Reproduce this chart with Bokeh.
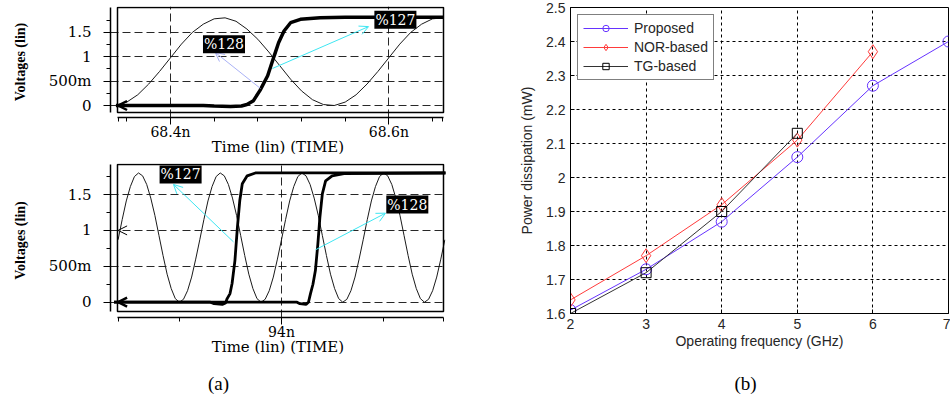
from bokeh.plotting import figure
from bokeh.models import (FixedTicker, CustomJSTickFormatter, BoxAnnotation, Label,
                          Arrow, OpenHead)
from bokeh.layouts import row, column
from bokeh.embed import file_html
from bokeh.resources import INLINE

# ---------------- Panel (a), upper waveform (time in ns, voltage in V) ----------------
a1_time = [68.35, 68.36, 68.37, 68.38, 68.39, 68.40, 68.41, 68.42, 68.43, 68.44,
           68.45, 68.46, 68.47, 68.48, 68.49, 68.50, 68.51, 68.52, 68.53, 68.54,
           68.55, 68.56, 68.57, 68.58, 68.59, 68.60, 68.61, 68.62, 68.63, 68.64, 68.65]
a1_clock = [0.00, 0.07, 0.22, 0.44, 0.70, 0.98, 1.26, 1.50, 1.67, 1.78,
            1.80, 1.73, 1.57, 1.36, 1.10, 0.82, 0.54, 0.30, 0.12, 0.02,
            0.00, 0.07, 0.22, 0.44, 0.70, 0.98, 1.26, 1.50, 1.67, 1.78, 1.80]
a1_out_time = [68.35, 68.43, 68.44, 68.455, 68.465, 68.47, 68.476, 68.482, 68.489,
               68.495, 68.499, 68.504, 68.510, 68.519, 68.537, 68.56, 68.65]
a1_out_v = [0.00, 0.00, -0.01, -0.02, -0.01, 0.02, 0.10, 0.31, 0.61,
            1.02, 1.29, 1.53, 1.70, 1.77, 1.80, 1.81, 1.81]
a1_xticks = [68.4, 68.6]
a1_xminor = [68.352, 68.36, 68.44, 68.48, 68.52, 68.56, 68.64, 68.6495]

# ---------------- Panel (a), lower waveform ----------------
a2_time = [93.60, 93.61, 93.62, 93.63, 93.64, 93.65, 93.66, 93.67, 93.68, 93.69,
           93.70, 93.71, 93.72, 93.73, 93.74, 93.75, 93.76, 93.77, 93.78, 93.79,
           93.80, 93.81, 93.82, 93.83, 93.84, 93.85, 93.86, 93.87, 93.88, 93.89,
           93.90, 93.91, 93.92, 93.93, 93.94, 93.95, 93.96, 93.97, 93.98, 93.99,
           94.00, 94.01, 94.02, 94.03, 94.04, 94.05, 94.06, 94.07, 94.08, 94.09,
           94.10, 94.11, 94.12, 94.13, 94.14, 94.15, 94.16, 94.17, 94.18, 94.19,
           94.20, 94.21, 94.22, 94.23, 94.24, 94.25, 94.26, 94.27, 94.28, 94.29,
           94.30, 94.31, 94.32, 94.33, 94.34, 94.35, 94.36, 94.37, 94.38, 94.39, 94.40]
a2_clock = [0.87, 1.15, 1.41, 1.61, 1.75, 1.80, 1.76, 1.64, 1.45, 1.21,
            0.93, 0.65, 0.39, 0.19, 0.05, 0.00, 0.04, 0.16, 0.35, 0.60,
            0.87, 1.15, 1.41, 1.61, 1.75, 1.80, 1.76, 1.64, 1.45, 1.21,
            0.93, 0.65, 0.39, 0.19, 0.05, 0.00, 0.04, 0.16, 0.35, 0.60,
            0.87, 1.15, 1.41, 1.61, 1.75, 1.80, 1.76, 1.64, 1.45, 1.21,
            0.93, 0.65, 0.39, 0.19, 0.05, 0.00, 0.04, 0.16, 0.35, 0.60,
            0.87, 1.15, 1.41, 1.61, 1.75, 1.80, 1.76, 1.64, 1.45, 1.21,
            0.93, 0.65, 0.39, 0.19, 0.05, 0.00, 0.04, 0.16, 0.35, 0.60, 0.87]
a2_n127_time = [93.59, 93.826, 93.835, 93.855, 93.863, 93.867, 93.874, 93.879, 93.886,
                93.892, 93.898, 93.904, 93.916, 93.936, 94.41]
a2_n127_v = [0.00, 0.00, -0.02, -0.03, -0.01, 0.05, 0.12, 0.26, 0.58,
             1.04, 1.42, 1.65, 1.76, 1.80, 1.80]
a2_n128_time = [93.59, 94.038, 94.045, 94.060, 94.066, 94.071, 94.077, 94.083, 94.089,
                94.094, 94.100, 94.108, 94.124, 94.153, 94.41]
a2_n128_v = [0.00, 0.00, -0.02, -0.03, 0.00, 0.12, 0.25, 0.44, 0.81,
             1.18, 1.51, 1.69, 1.76, 1.79, 1.80]
a2_xticks = [94]
a2_xminor = [93.60, 93.75, 94.25, 94.396]

a_yticks = [0, 0.5, 1, 1.5]
a_yminor = [0.25, 0.75, 1.25, 1.75]

# node tags (text, x, y) and their pointer arrows (x0, y0, x1, y1)
a1_tags = ["%128", "%127"]
a1_tag_x = [68.449, 68.606]
a1_tag_y = [1.26, 1.76]
a1_arrows = [(68.4824, 0.35, 68.441, 1.09), (68.4934, 0.76, 68.5814, 1.62)]
a1_arrow_colors = ["#aab2f6", "#3ee6f2"]
a2_tags = ["%127", "%128"]
a2_tag_x = [93.753, 94.308]
a2_tag_y = [1.78, 1.36]
a2_arrows = [(93.8825, 0.84, 93.7356, 1.64), (94.0832, 0.73, 94.2546, 1.24)]
a2_arrow_colors = ["#3ee6f2", "#3ee6f2"]

# sub-figure captions, placed in a caption strip (pixel units of that strip)
captions = ["(a)", "(b)"]
caption_x = [218, 745]

# ---------------- Panel (b) ----------------
freq = [2, 3, 4, 5, 6, 7]
proposed = [1.61, 1.73, 1.87, 2.06, 2.27, 2.40]
nor_freq = [2, 3, 4, 5, 6]
nor_based = [1.64, 1.77, 1.92, 2.11, 2.37]
tg_freq = [2, 3, 4, 5]
tg_based = [1.60, 1.72, 1.90, 2.13]
b_yticks = [1.6, 1.7, 1.8, 1.9, 2.0, 2.1, 2.2, 2.3, 2.4, 2.5]

SERIF = "DejaVu Serif"
SANS = "Liberation Sans"


def wave_fig(height, xr, yr, inner, mb_top, mb_bottom, xticks, xminor, xfmt):
    p = figure(width=460, height=height, x_range=xr, y_range=yr, title=None,
               output_backend="svg", toolbar_location=None,
               min_border_left=110, min_border_right=15,
               min_border_top=mb_top, min_border_bottom=mb_bottom)
    p.outline_line_color = None
    p.background_fill_color = "white"
    p.border_fill_color = "white"
    left, right, bottom, top = inner
    xa = p.xaxis[0]
    xa.ticker = FixedTicker(ticks=xticks, minor_ticks=xminor)
    xa.formatter = CustomJSTickFormatter(code=xfmt)
    xa.bounds = (left, right)
    ya = p.yaxis[0]
    ya.ticker = FixedTicker(ticks=a_yticks, minor_ticks=a_yminor)
    ya.formatter = CustomJSTickFormatter(code="""
        if (Math.abs(tick - 0.5) < 1e-6) { return "500m"; }
        return String(Math.round(tick * 10) / 10);""")
    ya.bounds = (bottom, top)
    for ax in (xa, ya):
        ax.axis_line_color = "black"
        ax.axis_line_width = 1.5
        ax.major_tick_out = 7
        ax.major_tick_in = 0
        ax.minor_tick_out = 4
        ax.minor_tick_in = 0
        ax.major_tick_line_color = "black"
        ax.minor_tick_line_color = "black"
        ax.major_label_text_font = SERIF
        ax.major_label_text_font_size = "15px"
        ax.major_label_text_color = "black"
        ax.axis_label_text_color = "black"
        ax.axis_label_text_font_style = "normal"
    xa.major_label_text_font_size = "14px"
    xa.major_label_standoff = -1
    xa.axis_label = "Time (lin) (TIME)"
    xa.axis_label_text_font = SERIF
    xa.axis_label_text_font_size = "15px"
    xa.axis_label_standoff = -5
    ya.major_label_standoff = 12
    ya.axis_label = "Voltages (lin)"
    ya.axis_label_text_font = "Liberation Serif"
    ya.axis_label_text_font_size = "14px"
    ya.axis_label_text_font_style = "bold"
    ya.axis_label_standoff = 18

    p.xgrid[0].ticker = FixedTicker(ticks=xticks)
    p.ygrid[0].ticker = FixedTicker(ticks=a_yticks)
    for g in (p.xgrid[0], p.ygrid[0]):
        g.grid_line_color = "#111111"
        g.grid_line_dash = "8 4"
        g.grid_line_width = 1
        g.grid_line_alpha = 0.9
    p.xgrid[0].bounds = (bottom, top)
    p.ygrid[0].bounds = (left, right)
    p.add_layout(BoxAnnotation(left=left, right=right, bottom=bottom, top=top,
                               fill_color=None, fill_alpha=0, line_alpha=1,
                               line_color="black", line_width=1.5))
    return p


def add_tags(p, tags, tx, ty, arrows, colors):
    for (x0, y0, x1, y1), c in zip(arrows, colors):
        p.add_layout(Arrow(x_start=x0, y_start=y0, x_end=x1, y_end=y1,
                           line_color=c, line_width=1,
                           end=OpenHead(size=9, line_color=c, line_width=1)))
    for t, x, y in zip(tags, tx, ty):
        p.add_layout(Label(x=x, y=y, text=t, text_color="white",
                           background_fill_color="black",
                           text_font=SERIF, text_font_size="14px",
                           text_align="center", text_baseline="middle", padding=1))


def left_marker(p, x_edge, span, y, width):
    p.add_layout(Arrow(x_start=x_edge + span, y_start=y, x_end=x_edge + span * 0.05, y_end=y,
                       line_alpha=0,
                       end=OpenHead(size=9, line_color="black", line_width=width)))


# ---- upper waveform figure
a1_inner = (68.35145, 68.65007, -0.1437, 2.0123)
a1 = wave_fig(158, (68.34504, 68.65190), (-0.2464, 2.0329), a1_inner, 6, 41,
              a1_xticks, a1_xminor, "return tick.toFixed(1) + 'n';")
a1.line(a1_time, a1_clock, line_color="#1a1a1a", line_width=1)
a1.line(a1_out_time, a1_out_v, line_color="black", line_width=3.5)
left_marker(a1, a1_inner[0], 0.01, 0.0, 2.5)
add_tags(a1, a1_tags, a1_tag_x, a1_tag_y, a1_arrows, a1_arrow_colors)

# ---- lower waveform figure
a2_inner = (93.5985, 94.3966, -0.1295, 1.9178)
a2 = wave_fig(210, (93.5814, 94.4015), (-0.2131, 1.9318), a2_inner, 5, 51,
              a2_xticks, a2_xminor, "return tick.toFixed(0) + 'n';")
a2.line(a2_time, a2_clock, line_color="#1a1a1a", line_width=1)
a2.line(a2_n127_time, a2_n127_v, line_color="black", line_width=2.8)
a2.line(a2_n128_time, a2_n128_v, line_color="black", line_width=2.8)
left_marker(a2, a2_inner[0], 0.03, 0.0, 2.5)
left_marker(a2, a2_inner[0], 0.03, 1.0, 1)
add_tags(a2, a2_tags, a2_tag_x, a2_tag_y, a2_arrows, a2_arrow_colors)

# ---- panel (b)
BLUE = "#6633ff"
RED = "#ff3b3b"
DARK = "#333333"
pb = figure(width=490, height=368, x_range=(2, 7), y_range=(1.6, 2.5), title=None,
            output_backend="svg", toolbar_location=None,
            min_border_left=110, min_border_right=2, min_border_top=7, min_border_bottom=55)
pb.outline_line_color = "black"
pb.outline_line_width = 1
pb.xaxis.ticker = FixedTicker(ticks=freq)
pb.yaxis.ticker = FixedTicker(ticks=b_yticks)
pb.yaxis.formatter = CustomJSTickFormatter(code="return tick.toFixed(1).replace(/\\.0$/, '');")
pb.xgrid.ticker = FixedTicker(ticks=freq)
pb.ygrid.ticker = FixedTicker(ticks=b_yticks)
for g in (pb.xgrid[0], pb.ygrid[0]):
    g.grid_line_color = "black"
    g.grid_line_dash = "3 3"
    g.grid_line_width = 1
    g.grid_line_alpha = 1
for ax in (pb.xaxis[0], pb.yaxis[0]):
    ax.axis_line_color = "black"
    ax.major_tick_in = 4
    ax.major_tick_out = 0
    ax.minor_tick_line_color = None
    ax.major_label_text_font = SANS
    ax.major_label_text_font_size = "14px"
    ax.major_label_text_color = "#262626"
    ax.axis_label_text_font = SANS
    ax.axis_label_text_font_size = "14px"
    ax.axis_label_text_font_style = "normal"
    ax.axis_label_text_color = "#262626"
pb.xaxis.axis_label = "Operating frequency (GHz)"
pb.xaxis.major_label_standoff = 5
pb.xaxis.axis_label_standoff = 1
pb.yaxis.axis_label = "Power dissipation (mW)"
pb.yaxis.major_label_standoff = 5
pb.yaxis.axis_label_standoff = 8

pb.line(freq, proposed, line_color=BLUE, line_width=1, legend_label="Proposed")
pb.scatter(freq, proposed, marker="circle", size=11, fill_color=None,
           line_color=BLUE, line_width=1, legend_label="Proposed")
pb.line(nor_freq, nor_based, line_color=RED, line_width=1, legend_label="NOR-based")
pb.scatter(nor_freq, nor_based, marker="diamond", size=14, fill_color=None,
           line_color=RED, line_width=1, legend_label="NOR-based")
pb.line(tg_freq, tg_based, line_color=DARK, line_width=1, legend_label="TG-based")
pb.scatter(tg_freq, tg_based, marker="square", size=10, fill_color=None,
           line_color="black", line_width=1, legend_label="TG-based")
lg = pb.legend[0]
lg.location = "top_left"
lg.margin = 7
lg.border_line_color = "black"
lg.border_line_width = 1
lg.background_fill_color = "white"
lg.background_fill_alpha = 1
lg.label_text_font = SANS
lg.label_text_font_size = "14px"
lg.label_text_color = "#262626"
lg.glyph_width = 45
lg.glyph_height = 16
lg.label_height = 16
lg.label_standoff = 6
lg.padding = 5
lg.spacing = 3

# ---- caption strip
cap = figure(width=950, height=30, x_range=(0, 950), y_range=(0, 30), title=None,
             x_axis_type=None, y_axis_type=None, output_backend="svg", toolbar_location=None,
             min_border_left=0, min_border_right=0, min_border_top=0, min_border_bottom=0)
cap.outline_line_color = None
cap.grid.visible = False
for t, x in zip(captions, caption_x):
    cap.add_layout(Label(x=x, y=15, text=t, text_align="center", text_baseline="middle",
                         text_font="Liberation Serif", text_font_size="19px",
                         text_color="black"))

layout = column(row(column(a1, a2), pb), cap)
open("out.html", "w").write(file_html(layout, INLINE))
